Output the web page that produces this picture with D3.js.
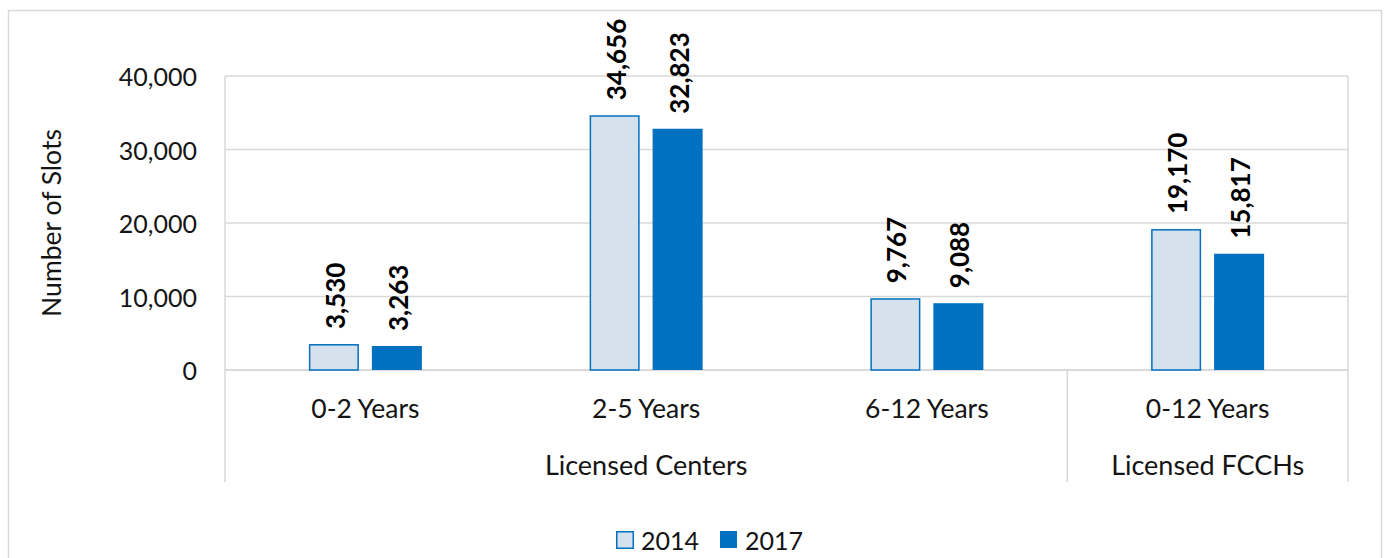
<!DOCTYPE html>
<html>
<head>
<meta charset="utf-8">
<script src="https://cdn.jsdelivr.net/npm/d3@7"></script>
<style>
  body { margin: 0; background: #fff; }
  svg { display: block; font-family: Lato, "Open Sans", sans-serif; }
</style>
</head>
<body>
<svg id="chart" width="1386" height="558"></svg>
<script>
const categories = ['0-2 Years', '2-5 Years', '6-12 Years', '0-12 Years'];
const groups = [
    { name: 'Licensed Centers', from: 0, to: 3 },
    { name: 'Licensed FCCHs', from: 3, to: 4 }
];
const seriesNames = ['2014', '2017'];
const values2014 = [3530, 34656, 9767, 19170];
const values2017 = [3263, 32823, 9088, 15817];
const yTicks = [0, 10000, 20000, 30000, 40000];

const colors = { '2014': '#d5e2ee', '2017': '#0070c0' };
const strokeColors = { '2014': '#0070c0', '2017': '#0070c0' };
const gridColor = '#d9d9d9';
const textColor = '#141414';

const svg = d3.select('#chart');
const margin = { left: 225, right: 1348, top: 76, bottom: 370 };
const axisBottom = 482;

// outer frame
svg.append('rect')
    .attr('x', 8.5).attr('y', 10.5)
    .attr('width', 1373).attr('height', 560)
    .attr('fill', 'none').attr('stroke', gridColor).attr('stroke-width', 1.5);

const x0 = d3.scaleBand().domain(categories).range([margin.left, margin.right]).padding(0);
const groupWidth = 113;
const x1 = d3.scaleBand().domain(seriesNames).range([-groupWidth / 2, groupWidth / 2]).paddingInner(0.206);
const y = d3.scaleLinear().domain([0, 40000]).range([margin.bottom, margin.top]);

// gridlines
svg.append('g').selectAll('line').data(yTicks).join('line')
    .attr('x1', margin.left).attr('x2', margin.right)
    .attr('y1', d => y(d)).attr('y2', d => y(d))
    .attr('stroke', gridColor)
    .attr('stroke-width', d => d === 0 ? 2 : 1.5);

// vertical frame / group separators
const vlines = [
    { x: margin.left, y1: margin.top },
    { x: margin.right, y1: margin.top },
    { x: x0(categories[3]), y1: margin.bottom }
];
svg.append('g').selectAll('line').data(vlines).join('line')
    .attr('x1', d => d.x).attr('x2', d => d.x)
    .attr('y1', d => d.y1).attr('y2', axisBottom)
    .attr('stroke', gridColor).attr('stroke-width', 1.5);

// y tick labels
svg.append('g').selectAll('text').data(yTicks).join('text')
    .attr('x', 197).attr('y', d => y(d))
    .attr('text-anchor', 'end').attr('dominant-baseline', 'central')
    .attr('font-size', 25).attr('fill', textColor)
    .text(d => d3.format(',')(d));

// y axis title
svg.append('text')
    .attr('transform', 'translate(51,223) rotate(-90)')
    .attr('text-anchor', 'middle').attr('dominant-baseline', 'central')
    .attr('font-size', 26.5).attr('fill', textColor)
    .text('Number of Slots');

// bars
const rows = categories.map((c, i) => ({
    category: c,
    bars: [
        { series: '2014', value: values2014[i] },
        { series: '2017', value: values2017[i] }
    ]
}));

const catG = svg.append('g').selectAll('g').data(rows).join('g')
    .attr('transform', d => `translate(${x0(d.category) + x0.bandwidth() / 2},0)`);

catG.selectAll('rect').data(d => d.bars).join('rect')
    .attr('x', d => x1(d.series) + (d.series === '2014' ? 0.75 : 0))
    .attr('y', d => y(d.value) + (d.series === '2014' ? 0.75 : 0))
    .attr('width', d => x1.bandwidth() - (d.series === '2014' ? 1.5 : 0))
    .attr('height', d => y(0) - y(d.value) - (d.series === '2014' ? 0.75 : 0))
    .attr('fill', d => colors[d.series])
    .attr('stroke', d => d.series === '2014' ? strokeColors[d.series] : 'none')
    .attr('stroke-width', 1.5);

catG.selectAll('text').data(d => d.bars).join('text')
    .attr('transform', d => `translate(${x1(d.series) + x1.bandwidth() / 2 + 1},${y(d.value) - 15}) rotate(-90)`)
    .attr('text-anchor', 'start').attr('dominant-baseline', 'central')
    .attr('font-size', 26).attr('font-weight', 'bold').attr('fill', '#000')
    .text(d => d3.format(',')(d.value));

// category labels
svg.append('g').selectAll('text').data(categories).join('text')
    .attr('x', d => x0(d) + x0.bandwidth() / 2).attr('y', 408)
    .attr('text-anchor', 'middle').attr('dominant-baseline', 'central')
    .attr('font-size', 26.5).attr('fill', textColor)
    .text(d => d);

// group labels
svg.append('g').selectAll('text').data(groups).join('text')
    .attr('x', d => (x0(categories[d.from]) + x0(categories[d.to - 1]) + x0.bandwidth()) / 2)
    .attr('y', 464)
    .attr('text-anchor', 'middle').attr('dominant-baseline', 'central')
    .attr('font-size', 27).attr('fill', textColor)
    .text(d => d.name);

// legend
const legendX = [616, 720];
const legend = svg.append('g').selectAll('g').data(seriesNames).join('g')
    .attr('transform', (d, i) => `translate(${legendX[i]},531)`);
legend.append('rect')
    .attr('x', d => d === '2014' ? 0.75 : 0).attr('y', d => d === '2014' ? 0.75 : 0)
    .attr('width', d => d === '2014' ? 16.5 : 17).attr('height', d => d === '2014' ? 16.5 : 17)
    .attr('fill', d => colors[d])
    .attr('stroke', d => d === '2014' ? strokeColors[d] : 'none').attr('stroke-width', 1.5);
legend.append('text')
    .attr('x', 25).attr('y', 8.5)
    .attr('dominant-baseline', 'central')
    .attr('font-size', 25).attr('fill', textColor)
    .text(d => d);
</script>
</body>
</html>
